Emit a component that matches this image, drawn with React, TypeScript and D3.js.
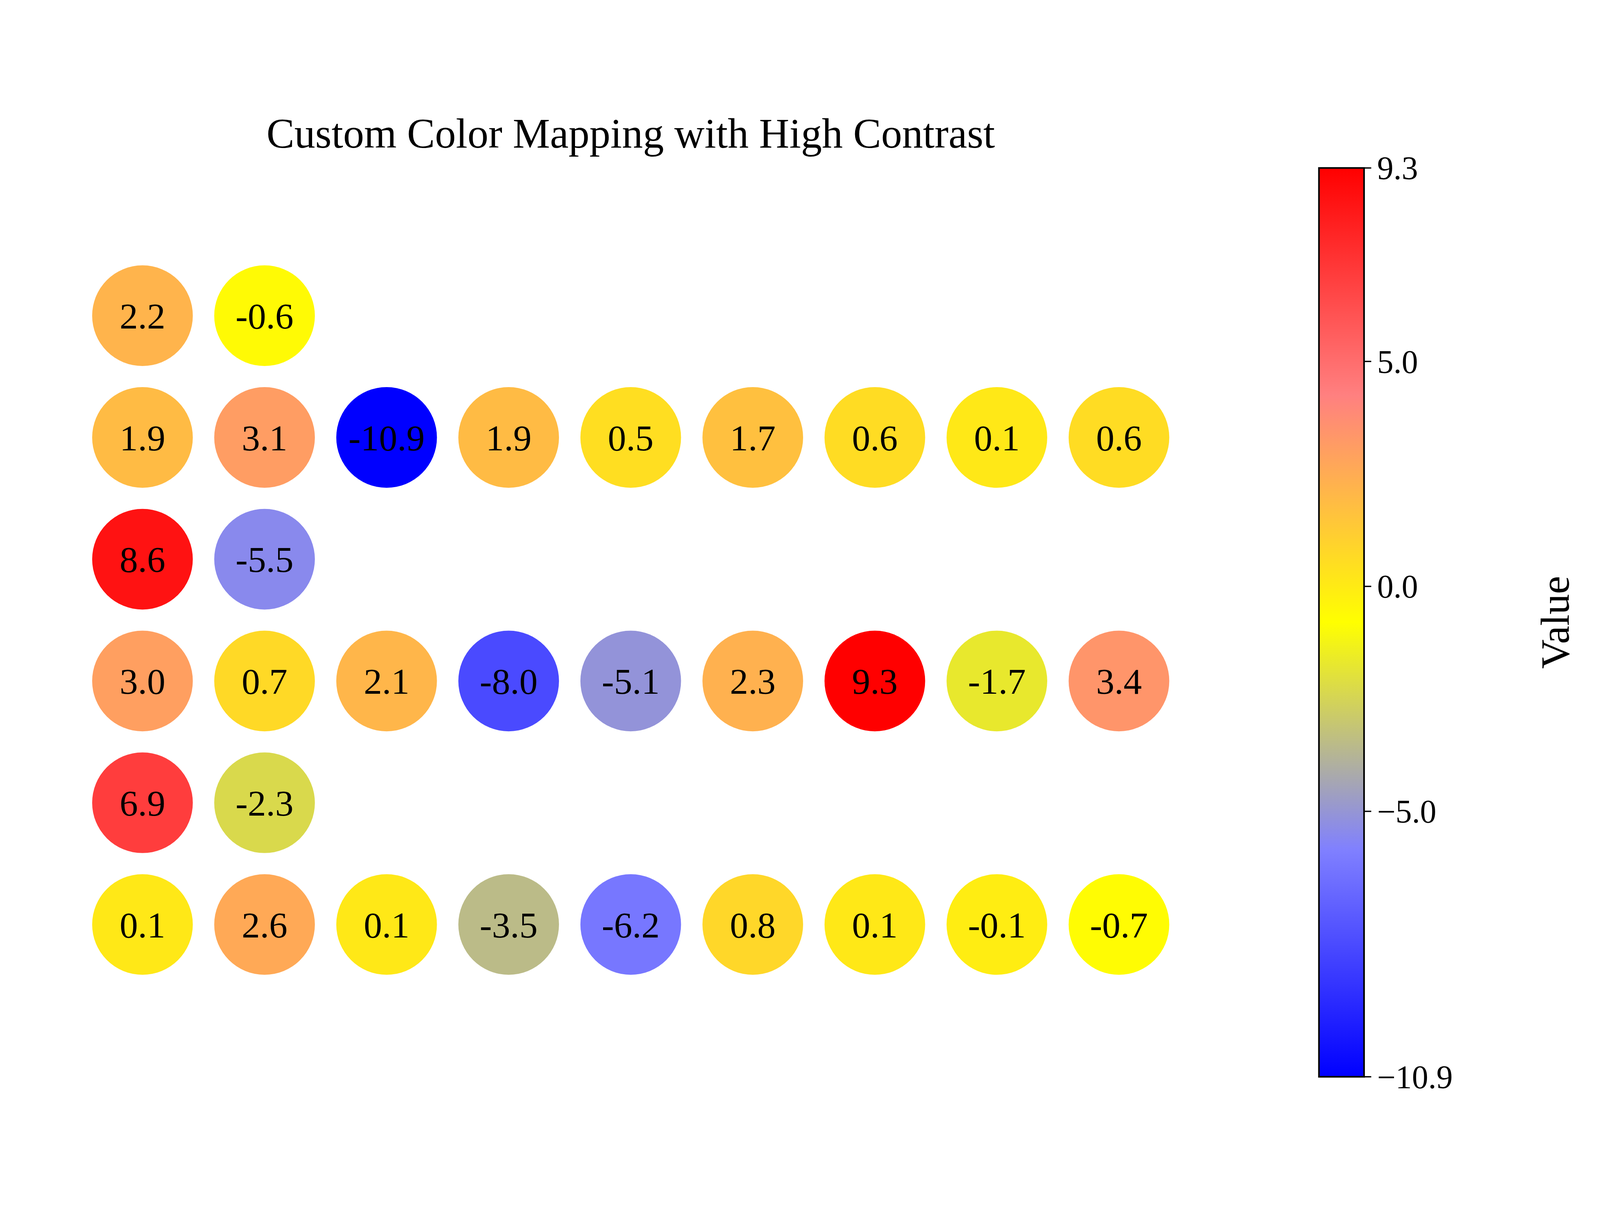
import React from 'react';
import * as d3 from 'd3';

const rowValues: number[][] = [
  [2.2, -0.6],
  [1.9, 3.1, -10.9, 1.9, 0.5, 1.7, 0.6, 0.1, 0.6],
  [8.6, -5.5],
  [3.0, 0.7, 2.1, -8.0, -5.1, 2.3, 9.3, -1.7, 3.4],
  [6.9, -2.3],
  [0.1, 2.6, 0.1, -3.5, -6.2, 0.8, 0.1, -0.1, -0.7],
];
const cmapColors = ['#0000ff', '#8080ff', '#ffff00', '#ff8080', '#ff0000'];
const barTicks = [9.3, 5.0, 0.0, -5.0, -10.9];
const vmin = -10.9;
const vmax = 9.3;

const width = 4896;
const height = 3113;
const font = '"Liberation Serif", "DejaVu Serif", serif';

const App: React.FC = () => {
  const xScale = d3.scaleLinear().domain([0, 8]).range([436, 3424]);
  const yScale = d3.scaleLinear().domain([0, 5]).range([662, 2525]);
  const color = d3.scaleLinear<string>()
    .domain(d3.range(cmapColors.length).map(i => vmin + (vmax - vmin) * i / (cmapColors.length - 1)))
    .range(cmapColors)
    .interpolate(d3.interpolateRgb);
  const r = 154;

  const barX = 4036, barW = 138, barTop = 210, barBottom = 2991;
  const barScale = d3.scaleLinear().domain([vmin, vmax]).range([barBottom, barTop]);
  const fmt = (v: number) => (v < 0 ? '\u2212' + Math.abs(v).toFixed(1) : v.toFixed(1));

  return (
    <svg viewBox={`0 0 ${width} ${height}`}
      style={{position: 'absolute', left: 0, top: 0, width: '100vw', height: '100vh', display: 'block', background: '#fff'}}>
      <defs>
        <linearGradient id="cbar" x1="0" y1="1" x2="0" y2="0">
          {cmapColors.map((c, i) => (
            <stop key={i} offset={i / (cmapColors.length - 1)} stopColor={c}/>
          ))}
        </linearGradient>
      </defs>
      <text x={1930} y={148} textAnchor="middle" fontFamily={font} fontSize={128}>
        Custom Color Mapping with High Contrast
      </text>
      {rowValues.map((row, ri) => row.map((v, ci) => (
        <g key={`${ri}-${ci}`} transform={`translate(${xScale(ci)}, ${yScale(ri)})`}>
          <circle r={r} fill={color(v)}/>
          <text textAnchor="middle" dy="0.35em" fontFamily={font} fontSize={112}>{v.toFixed(1)}</text>
        </g>
      )))}
      <rect x={barX} y={barTop} width={barW} height={barBottom - barTop} fill="url(#cbar)" stroke="#000" strokeWidth={5}/>
      {barTicks.map(t => (
        <g key={t} transform={`translate(${barX + barW}, ${barScale(t)})`}>
          <line x2={22} stroke="#000" strokeWidth={4}/>
          <text x={40} dy="0.35em" fontFamily={font} fontSize={100}>{fmt(t)}</text>
        </g>
      ))}
      <text transform={`translate(4800, ${(barTop + barBottom) / 2}) rotate(-90)`} textAnchor="middle"
        fontFamily={font} fontSize={125}>Value</text>
    </svg>
  );
};

export default App;
